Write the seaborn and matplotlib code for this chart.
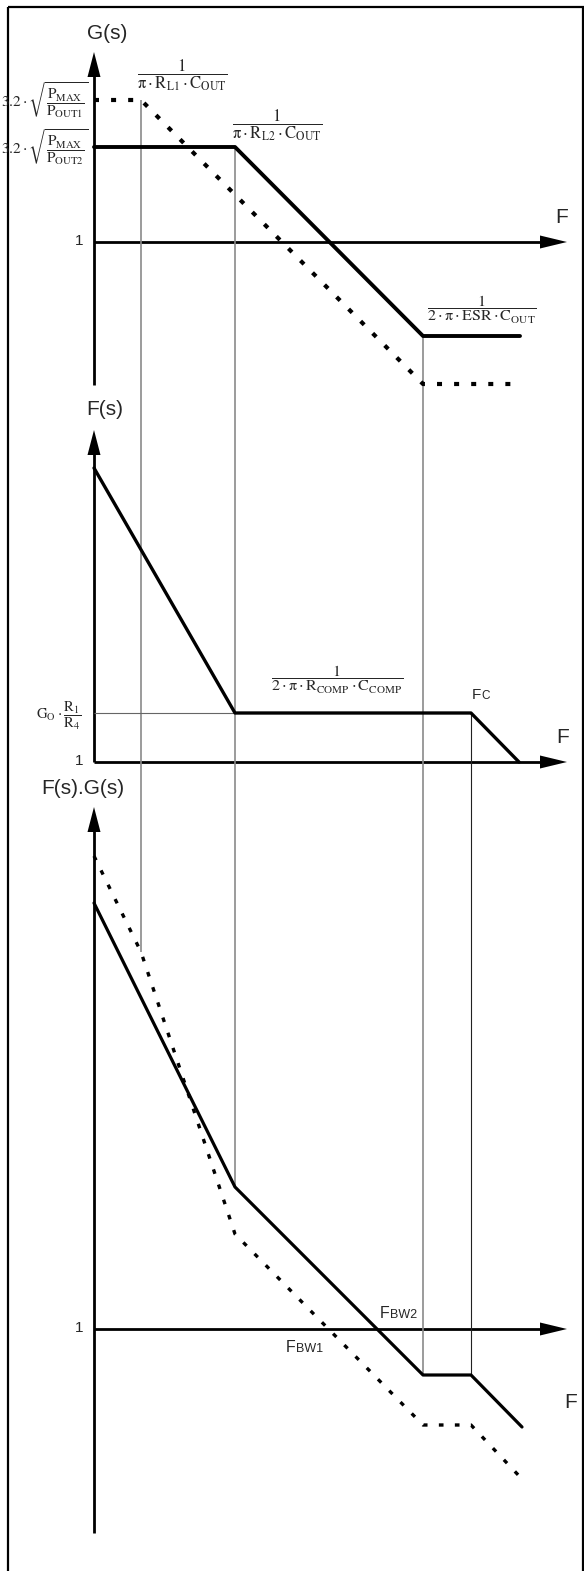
import matplotlib
matplotlib.use("Agg")
import matplotlib.pyplot as plt
import seaborn as sns
from matplotlib.patches import Rectangle, Polygon

# break points of the asymptotic curves
# x = position on the log frequency axis, y = position from top of sheet
g_solid_x = [94, 235, 423, 520]
g_solid_y = [147, 147, 336, 336]
g_dash_x = [94, 141, 423, 520]
g_dash_y = [100, 100, 384, 384]

f_x = [94, 235, 471, 519]
f_y = [468, 713, 713, 762]

fg_solid_x = [94, 235, 423, 471, 522]
fg_solid_y = [903, 1187, 1375, 1375, 1427]
fg_dash_x = [94, 141, 235, 423, 471, 522]
fg_dash_y = [856, 952, 1234, 1425, 1425, 1479]

# corner frequencies carried down through the panels (thin guides)
guide_x = [141, 235, 423]
guide_top = [100, 147, 336]
guide_bottom = [952, 1187, 1375]
fc_x = 471

# panel axes: (y of the F axis, top of vertical arrow, bottom of vertical line)
panels = [(242, 52, 385), (762, 430, 762), (1329, 807, 1533)]
axis_x = 94
arrow_end = 567

sns.set_theme(style="white")
plt.rcParams["font.family"] = ["Liberation Sans", "DejaVu Sans"]
plt.rcParams["mathtext.fontset"] = "stix"
plt.rcParams["mathtext.default"] = "rm"

fig = plt.figure(figsize=(5.84, 15.71), dpi=100)
ax = fig.add_axes([0, 0, 1, 1])
ax.set_xlim(0, 584)
ax.set_ylim(1571, 0)
ax.axis("off")

# outer frame
ax.add_patch(Rectangle((7.5, 6.5), 575, 1600, fill=False, lw=1.6, ec="black", clip_on=False))

# axes with arrow heads
for y_f, y_top, y_bot in panels:
    ax.plot([axis_x, axis_x], [y_top + 24, y_bot], color="black", lw=2, solid_capstyle="butt")
    ax.add_patch(Polygon([(axis_x, y_top), (axis_x - 6.5, y_top + 25), (axis_x + 6.5, y_top + 25)],
                         color="black", lw=0))
    ax.plot([axis_x, arrow_end - 25], [y_f, y_f], color="black", lw=2, solid_capstyle="butt")
    ax.add_patch(Polygon([(arrow_end, y_f), (arrow_end - 27, y_f - 6.5), (arrow_end - 27, y_f + 6.5)],
                         color="black", lw=0))

# guides
ax.vlines(guide_x, guide_top, guide_bottom, colors="#8a8a8a", lw=1.2)
ax.vlines([fc_x], [f_y[2]], [fg_solid_y[3]], colors="#222222", lw=0.8)
ax.hlines([f_y[1]], axis_x, f_x[1], colors="#666666", lw=0.8)

dash_top = (0, (1.2, 2.9))
dash_low = (0, (1.4, 3.4))

sns.lineplot(x=g_solid_x, y=g_solid_y, ax=ax, sort=False, estimator=None, color="black", lw=2.8)
sns.lineplot(x=g_dash_x, y=g_dash_y, ax=ax, sort=False, estimator=None, color="black", lw=3,
             linestyle=dash_top, dash_capstyle="butt")
sns.lineplot(x=f_x, y=f_y, ax=ax, sort=False, estimator=None, color="black", lw=2.4)
sns.lineplot(x=fg_solid_x, y=fg_solid_y, ax=ax, sort=False, estimator=None, color="black", lw=2.3)
sns.lineplot(x=fg_dash_x, y=fg_dash_y, ax=ax, sort=False, estimator=None, color="black", lw=2.4,
             linestyle=dash_low, dash_capstyle="butt")

# axis titles
ax.text(107, 33, "G(s)", fontsize=15, ha="center", va="center")
ax.text(105, 409, "F(s)", fontsize=15, ha="center", va="center")
ax.text(83, 788, "F(s).G(s)", fontsize=15, ha="center", va="center")
for (y_f, _, _), dx, dy in zip(panels, [562, 563, 571], [-25, -25, 73]):
    ax.text(dx, y_f + dy, "F", fontsize=15, ha="center", va="center")
    ax.text(83, y_f - 1, "1", fontsize=11, ha="right", va="center")


def split_label(x, y, big, small, size_big, size_small):
    t = ax.text(x, y, big, fontsize=size_big, ha="left", va="baseline")
    ax.annotate(small, xy=(1, 0), xycoords=t, xytext=(0.3, 0), textcoords="offset points",
                fontsize=size_small, ha="left", va="bottom")


split_label(472, 699, "F", "C", 11, 8.5)
split_label(380, 1318, "F", "BW2", 11.5, 9)
split_label(286, 1352, "F", "BW1", 11.5, 9)

# corner frequency / gain expressions
ax.text(182, 75, r"$\dfrac{1}{\pi\cdot R_{L1}\cdot C_{OUT}}$", fontsize=12, ha="center", va="center")
ax.text(277, 125, r"$\dfrac{1}{\pi\cdot R_{L2}\cdot C_{OUT}}$", fontsize=12, ha="center", va="center")
ax.text(482, 310, r"$\dfrac{1}{2\cdot\pi\cdot ESR\cdot C_{OUT}}$", fontsize=11.5, ha="center", va="center")
ax.text(337, 680, r"$\dfrac{1}{2\cdot\pi\cdot R_{COMP}\cdot C_{COMP}}$", fontsize=11.5, ha="center", va="center")
ax.text(89, 100, r"$3.2\cdot\sqrt{\dfrac{P_{MAX}}{P_{OUT1}}}$", fontsize=11, ha="right", va="center")
ax.text(89, 147, r"$3.2\cdot\sqrt{\dfrac{P_{MAX}}{P_{OUT2}}}$", fontsize=11, ha="right", va="center")
ax.text(81, 716, r"$G_{O}\cdot\dfrac{R_{1}}{R_{4}}$", fontsize=10.5, ha="right", va="center")

fig.savefig("out.png", dpi=100)
